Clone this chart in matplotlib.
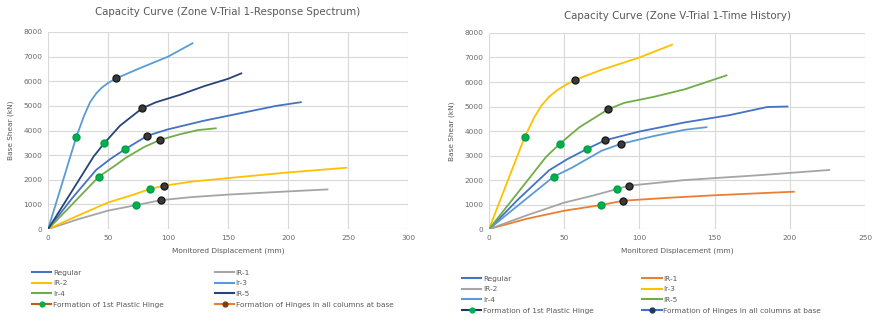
import matplotlib.pyplot as plt
from matplotlib.lines import Line2D

# ---- Response spectrum trial (left) ----
rs_regular_x = [0, 20, 40, 52, 64.4, 82.8, 100, 130, 160, 190, 210.6]
rs_regular_y = [0, 1250, 2400, 2850, 3250, 3790, 4050, 4400, 4700, 5000, 5150]
rs_ir1_x = [0, 25, 50, 73.6, 94.4, 120, 150, 200, 232.8]
rs_ir1_y = [0, 400, 750, 975, 1178, 1300, 1400, 1530, 1610]
rs_ir2_x = [0, 25, 50, 70, 84.7, 96.4, 120, 150, 200, 248.6]
rs_ir2_y = [0, 550, 1080, 1380, 1624, 1760, 1930, 2070, 2300, 2490]
rs_ir3_x = [0, 12, 23.6, 30, 35, 40, 45, 50, 56.9, 75, 100, 120.3]
rs_ir3_y = [0, 1900, 3750, 4600, 5150, 5500, 5750, 5930, 6120, 6500, 7000, 7540]
rs_ir4_x = [0, 20, 42.2, 55, 65, 80, 93, 110, 125, 139.7]
rs_ir4_y = [0, 1000, 2125, 2550, 2900, 3330, 3614, 3850, 4020, 4090]
rs_ir5_x = [0, 20, 38, 46.7, 60, 78.3, 90, 110, 130, 150, 161]
rs_ir5_y = [0, 1550, 2950, 3479, 4200, 4900, 5150, 5450, 5800, 6100, 6320]
rs_first_x = [23.6, 46.7, 64.4, 42.2, 84.7, 73.6]
rs_first_y = [3750, 3479, 3250, 2125, 1624, 975]
rs_base_x = [56.9, 78.3, 82.8, 93, 96.4, 94.4]
rs_base_y = [6120, 4900, 3790, 3614, 1760, 1178]

# ---- Time history trial (right) ----
th_regular_x = [0, 20, 40, 52, 65.2, 77.2, 100, 130, 160, 185, 198.4]
th_regular_y = [0, 1250, 2400, 2850, 3271, 3625, 3980, 4350, 4650, 4980, 5000]
th_ir1_x = [0, 25, 50, 74.5, 89.1, 120, 150, 202.7]
th_ir1_y = [0, 420, 750, 981, 1158, 1280, 1380, 1526]
th_ir2_x = [0, 25, 50, 70, 85.1, 93.1, 130, 180, 226.2]
th_ir2_y = [0, 560, 1080, 1380, 1635, 1772, 2000, 2200, 2412]
th_ir3_x = [0, 12, 23.7, 30, 35, 40, 45, 50, 57.4, 75, 100, 121.7]
th_ir3_y = [0, 1900, 3748, 4550, 5050, 5400, 5650, 5850, 6092, 6500, 7000, 7523]
th_ir4_x = [0, 20, 43, 55, 65, 75, 87.6, 110, 130, 144.6]
th_ir4_y = [0, 1000, 2140, 2500, 2850, 3200, 3475, 3800, 4050, 4157]
th_ir5_x = [0, 20, 38, 47, 60, 79.4, 90, 110, 130, 157.9]
th_ir5_y = [0, 1550, 2950, 3475, 4150, 4893, 5150, 5400, 5700, 6269]
th_first_x = [23.7, 47, 65.2, 43, 85.1, 74.5]
th_first_y = [3748, 3475, 3271, 2140, 1635, 981]
th_base_x = [57.4, 79.4, 77.2, 87.6, 93.1, 89.1]
th_base_y = [6092, 4893, 3625, 3475, 1772, 1158]

BLUE = '#4472C4'
GRAY = '#A5A5A5'
YELLOW = '#FFC000'
LBLUE = '#5B9BD5'
GREEN = '#70AD47'
NAVY = '#264478'
ORANGE = '#ED7D31'
TXT = '#595959'

plt.rcParams['font.family'] = ['DejaVu Sans']

fig = plt.figure(figsize=(8.74, 3.33), dpi=100)
ax1 = fig.add_axes([0.055, 0.312, 0.412, 0.592])
ax2 = fig.add_axes([0.5595, 0.312, 0.4302, 0.589])


def style(ax, xmax, title, pad):
    ax.set_xlim(0, xmax)
    ax.set_ylim(0, 8000)
    ax.set_yticks(range(0, 8001, 1000))
    ax.set_xticks(range(0, xmax + 1, 50))
    ax.grid(True, color='#D9D9D9', lw=0.8)
    ax.set_axisbelow(True)
    for s in ax.spines.values():
        s.set_visible(False)
    ax.tick_params(length=0, labelsize=5.3, colors='#6A6A6A', pad=4)
    ax.set_title(title, fontsize=7.4, color=TXT, pad=pad)
    ax.set_xlabel('Monitored Displacement (mm)', fontsize=5.3, color=TXT, labelpad=5)
    ax.set_ylabel('Base Shear (kN)', fontsize=5.3, color=TXT, labelpad=7)


lw = 1.3
ms = 5

# left chart
ax1.plot(rs_regular_x, rs_regular_y, color=BLUE, lw=lw)
ax1.plot(rs_ir1_x, rs_ir1_y, color=GRAY, lw=lw)
ax1.plot(rs_ir2_x, rs_ir2_y, color=YELLOW, lw=lw)
ax1.plot(rs_ir3_x, rs_ir3_y, color=LBLUE, lw=lw)
ax1.plot(rs_ir4_x, rs_ir4_y, color=GREEN, lw=lw)
ax1.plot(rs_ir5_x, rs_ir5_y, color=NAVY, lw=lw)
ax1.plot(rs_first_x, rs_first_y, 'o', ms=ms, color='#00B050', mec='#00A046')
ax1.plot(rs_base_x, rs_base_y, 'o', ms=ms, color='#3A3A3A', mec='#1A1A1A')
style(ax1, 300, 'Capacity Curve (Zone V-Trial 1-Response Spectrum)', 12)

# right chart
ax2.plot(th_regular_x, th_regular_y, color=BLUE, lw=lw)
ax2.plot(th_ir1_x, th_ir1_y, color=ORANGE, lw=lw)
ax2.plot(th_ir2_x, th_ir2_y, color=GRAY, lw=lw)
ax2.plot(th_ir3_x, th_ir3_y, color=YELLOW, lw=lw)
ax2.plot(th_ir4_x, th_ir4_y, color=LBLUE, lw=lw)
ax2.plot(th_ir5_x, th_ir5_y, color=GREEN, lw=lw)
ax2.plot(th_first_x, th_first_y, 'o', ms=ms, color='#00B050', mec='#00A046')
ax2.plot(th_base_x, th_base_y, 'o', ms=ms, color='#3A3A3A', mec='#1A1A1A')
style(ax2, 250, 'Capacity Curve (Zone V-Trial 1-Time History)', 10)


def h(c, marker=None, mc=None):
    if marker:
        return Line2D([], [], color=c, lw=1.5, marker='o', ms=3.5, mfc=mc, mec=mc)
    return Line2D([], [], color=c, lw=1.5)


def legend_col(handles, labels, x, y):
    leg = fig.legend(handles, labels, loc='upper left', bbox_to_anchor=(x, y),
                     frameon=False, fontsize=5.3, handlelength=2.6,
                     handletextpad=0.2, labelspacing=0.62, borderaxespad=0,
                     borderpad=0, labelcolor=TXT)
    return leg


legend_col([h(BLUE), h(YELLOW), h(GREEN), h('#C55A11', 'o', '#00B050')],
           ['Regular', 'IR-2', 'Ir-4', 'Formation of 1st Plastic Hinge'],
           0.037, 0.191)
legend_col([h(GRAY), h(LBLUE), h(NAVY), h(ORANGE, 'o', '#843C0C')],
           ['IR-1', 'Ir-3', 'IR-5', 'Formation of Hinges in all columns at base'],
           0.246, 0.191)
legend_col([h(BLUE), h(GRAY), h(LBLUE), h('#203864', 'o', '#00B050')],
           ['Regular', 'IR-2', 'Ir-4', 'Formation of 1st Plastic Hinge'],
           0.529, 0.173)
legend_col([h(ORANGE), h(YELLOW), h(GREEN), h(BLUE, 'o', '#203864')],
           ['IR-1', 'Ir-3', 'IR-5', 'Formation of Hinges in all columns at base'],
           0.735, 0.173)

fig.savefig('out.png', dpi=100)
